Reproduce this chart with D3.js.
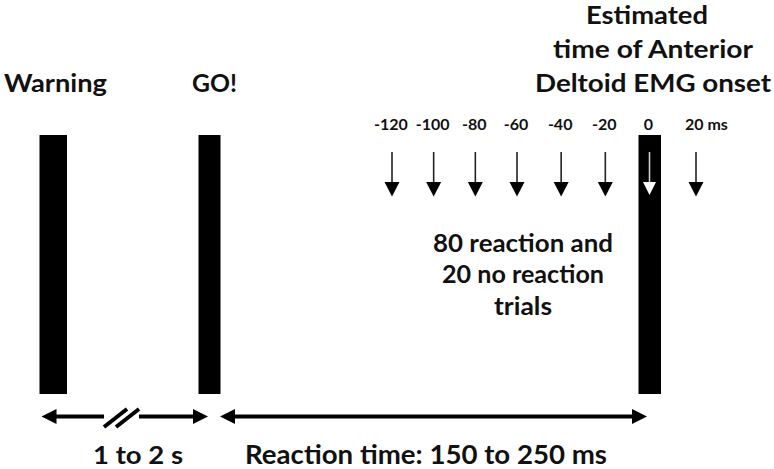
<!DOCTYPE html>
<html>
<head>
<meta charset="utf-8">
<script src="https://cdn.jsdelivr.net/npm/d3@7"></script>
<style>
  html, body { margin: 0; padding: 0; background: #fff; }
  svg { display: block; }
  text { font-family: Lato, "Open Sans", sans-serif; font-weight: 700; fill: #111; }
</style>
</head>
<body>
<svg id="chart" width="774" height="469"></svg>
<script>
// ---- data ----
const eventLabels = ["Warning", "GO!"];
const onsetTitle = ["Estimated", "time of Anterior", "Deltoid EMG onset"];
const probeTimes = [-120, -100, -80, -60, -40, -20, 0, 20];
const probeLabels = ["-120", "-100", "-80", "-60", "-40", "-20", "0", "20 ms"];
const trialText = ["80 reaction and", "20 no reaction", "trials"];
const intervalLabels = ["1 to 2 s", "Reaction time: 150 to 250 ms"];

// ---- layout ----
const svg = d3.select("#chart");
const ink = "#000";

// probe-time scale (ms relative to EMG onset)
const xProbe = d3.scaleLinear()
  .domain([-120, -60, 0, 20])
  .range([392, 517, 649.5, 696]);

const barTop = 135, barBottom = 394;

// event bars: warning, go, onset
const bars = [
  { x0: 39.5, x1: 67 },
  { x0: 198.5, x1: 220.5 },
  { x0: xProbe(0) - 11, x1: xProbe(0) + 11.5 }
];
svg.selectAll("rect.bar").data(bars).join("rect")
  .attr("class", "bar")
  .attr("x", d => d.x0).attr("y", barTop)
  .attr("width", d => d.x1 - d.x0).attr("height", barBottom - barTop)
  .attr("fill", ink);

// helper for text fit
function fitText(sel, str, x0, x1, y, size) {
  sel.append("text")
    .attr("x", x0).attr("y", y)
    .attr("font-size", size)
    .attr("textLength", x1 - x0)
    .attr("lengthAdjust", "spacingAndGlyphs")
    .text(str);
}

// event labels
fitText(svg, eventLabels[0], 4, 107, 92, 25);
fitText(svg, eventLabels[1], 192, 237, 92, 25);

// onset title
const titleBoxes = [[586, 708, 24, 24], [553, 753, 58, 25], [535, 771, 92, 25]];
onsetTitle.forEach((t, i) => fitText(svg, t, titleBoxes[i][0], titleBoxes[i][1], titleBoxes[i][2], titleBoxes[i][3]));

// probe labels
svg.selectAll("text.probe").data(probeTimes).join("text")
  .attr("class", "probe")
  .attr("x", (d, i) => i === probeTimes.length - 1 ? xProbe(d) - 11 : xProbe(d) - 1)
  .attr("y", 130)
  .attr("font-size", 16)
  .attr("text-anchor", (d, i) => i === probeTimes.length - 1 ? "start" : "middle")
  .text((d, i) => probeLabels[i]);

// probe arrows
const shaftTop = 152, headTop = 182, headBottom = 196.5, headHalf = 7.5;
const probeG = svg.selectAll("g.probeArrow").data(probeTimes).join("g")
  .attr("class", "probeArrow")
  .attr("transform", d => `translate(${xProbe(d)},0)`);
probeG.append("line")
  .attr("x1", 0).attr("x2", 0)
  .attr("y1", shaftTop).attr("y2", headTop + 1)
  .attr("stroke", d => d === 0 ? "#ccc" : "#222")
  .attr("stroke-width", 1.6);
probeG.append("path")
  .attr("d", d => {
    const h = d === 0 ? 6.5 : headHalf;
    const b = d === 0 ? 195 : headBottom;
    return `M${-h},${headTop}L${h},${headTop}L0,${b}Z`;
  })
  .attr("fill", d => d === 0 ? "#fff" : ink);

// trial text
const trialBoxes = [[433, 613, 252], [442, 604, 283], [494, 552, 315]];
trialText.forEach((t, i) => fitText(svg, t, trialBoxes[i][0], trialBoxes[i][1], trialBoxes[i][2], 24));

// bottom interval arrows
const ay = 416.5, sw = 4, hl = 15, hh = 7.5;
function head(x, dir) {
  svg.append("path")
    .attr("d", `M${x},${ay}L${x - dir * hl},${ay - hh}L${x - dir * hl},${ay + hh}Z`)
    .attr("fill", ink);
}
function seg(x0, x1) {
  svg.append("line")
    .attr("x1", x0).attr("x2", x1).attr("y1", ay).attr("y2", ay)
    .attr("stroke", ink).attr("stroke-width", sw);
}
// interval 1 (with break)
seg(41.5 + 10, 104);
head(41.5, -1);
seg(139, 208 - 10);
head(208, 1);
// break marks
[[104, 427, 127, 409], [116, 427, 139, 409]].forEach(p => {
  svg.append("line")
    .attr("x1", p[0]).attr("y1", p[1]).attr("x2", p[2]).attr("y2", p[3])
    .attr("stroke", ink).attr("stroke-width", 4);
});
// interval 2
seg(220 + 10, 647 - 10);
head(220, -1);
head(647, 1);

// interval labels
fitText(svg, intervalLabels[0], 93, 183, 464, 25);
fitText(svg, intervalLabels[1], 245, 607, 464, 26);
</script>
</body>
</html>
